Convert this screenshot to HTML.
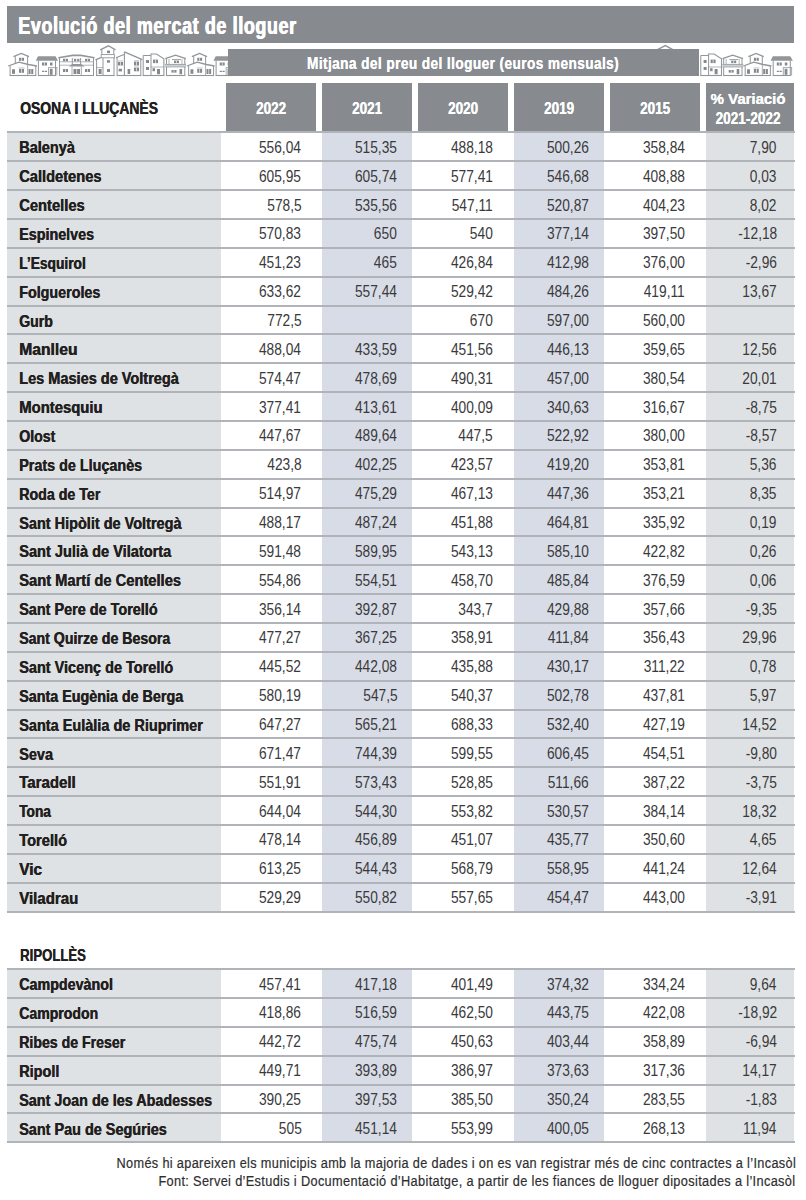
<!DOCTYPE html>
<html><head><meta charset="utf-8"><title>Evolució del mercat de lloguer</title>
<style>
html,body{margin:0;padding:0;background:#fff;}
body{width:806px;height:1200px;overflow:hidden;position:relative;font-family:"Liberation Sans",sans-serif;}
.a{position:absolute;}
.t{position:absolute;white-space:nowrap;}
.b{font-weight:bold;text-shadow:0.45px 0 0 currentColor;}
.w{text-shadow:0.2px 0 0 #fff;}
.tt{text-shadow:0.5px 0 0 #fff,1px 0 0 #fff;}
.w{color:#fff;}
.k{color:#231f20;}
.n{color:#3a3a3c;}
.f{color:#2e2e30;-webkit-text-stroke:0.2px currentColor;}
svg{position:absolute;left:0;top:0;}
</style></head><body>
<div class="a" style="left:7.00px;top:6.00px;width:787.00px;height:37.00px;background:#878b8f;"></div>
<div class="t b w tt" style="left:17.60px;top:14.20px;font-size:24.1px;line-height:24.1px;letter-spacing:0.89px;transform:scaleX(0.74);transform-origin:0 0">Evolució del mercat de lloguer</div>
<svg width="806" height="90" viewBox="0 0 806 90" style="position:absolute;left:0;top:0"><polyline points="8.20,66.00 19.00,62.20 28.30,64.50 36.90,66.00" fill="none" stroke="#929699" stroke-width="1.3" stroke-linejoin="miter"/><polyline points="13.40,56.60 21.30,53.50 29.10,56.60" fill="none" stroke="#929699" stroke-width="1.3" stroke-linejoin="miter"/><line x1="15.30" y1="56.30" x2="15.30" y2="63.60" stroke="#929699" stroke-width="1.0"/><line x1="27.60" y1="56.30" x2="27.60" y2="64.20" stroke="#929699" stroke-width="1.0"/><line x1="10.10" y1="66.00" x2="10.10" y2="75.50" stroke="#929699" stroke-width="1.0"/><line x1="35.80" y1="66.00" x2="35.80" y2="75.50" stroke="#929699" stroke-width="1.0"/><line x1="27.60" y1="64.50" x2="27.60" y2="75.50" stroke="#929699" stroke-width="0.8"/><line x1="9.60" y1="75.50" x2="36.30" y2="75.50" stroke="#929699" stroke-width="1.1"/><rect x="19.00" y="57.80" width="5.00" height="3.00" fill="#85898d"/><rect x="21.15" y="57.80" width="0.7" height="3.00" fill="#f4f4f4"/><rect x="12.00" y="69.30" width="3.00" height="4.50" fill="#85898d"/><rect x="19.00" y="69.00" width="5.00" height="3.80" fill="#85898d"/><rect x="21.15" y="69.00" width="0.7" height="3.80" fill="#f4f4f4"/><rect x="28.50" y="69.00" width="4.80" height="5.00" fill="#85898d"/><rect x="30.55" y="69.00" width="0.7" height="5.00" fill="#f4f4f4"/><line x1="18.50" y1="68.00" x2="24.50" y2="68.00" stroke="#929699" stroke-width="0.6"/><polygon points="38.00,56.30 55.50,56.30 58.10,60.80 35.80,60.80" fill="#929699"/><line x1="38.40" y1="60.80" x2="38.40" y2="75.50" stroke="#929699" stroke-width="1.0"/><line x1="55.50" y1="60.80" x2="55.50" y2="75.50" stroke="#929699" stroke-width="1.0"/><line x1="37.90" y1="75.50" x2="56.00" y2="75.50" stroke="#929699" stroke-width="1.1"/><rect x="42.00" y="62.50" width="5.00" height="3.00" fill="#85898d"/><rect x="44.15" y="62.50" width="0.7" height="3.00" fill="#f4f4f4"/><rect x="50.00" y="62.50" width="2.50" height="3.00" fill="#85898d"/><rect x="42.00" y="70.80" width="5.00" height="1.20" fill="#85898d"/><rect x="44.15" y="70.80" width="0.7" height="1.20" fill="#f4f4f4"/><rect x="49.80" y="68.80" width="2.80" height="6.00" fill="#85898d"/><line x1="48.20" y1="67.60" x2="57.40" y2="67.60" stroke="#929699" stroke-width="0.8"/><line x1="48.50" y1="67.60" x2="48.50" y2="75.50" stroke="#929699" stroke-width="0.8"/><line x1="56.80" y1="67.60" x2="56.80" y2="75.50" stroke="#929699" stroke-width="0.8"/><polygon points="58.30,58.60 72.70,56.20 80.80,56.20 94.50,58.60 94.50,57.00 80.80,54.40 72.70,54.40 58.30,57.00" fill="#929699"/><line x1="59.50" y1="58.00" x2="59.50" y2="75.50" stroke="#929699" stroke-width="1.0"/><line x1="93.50" y1="58.00" x2="93.50" y2="75.50" stroke="#929699" stroke-width="1.0"/><line x1="59.50" y1="61.80" x2="93.50" y2="61.80" stroke="#929699" stroke-width="0.7"/><line x1="59.50" y1="65.20" x2="93.50" y2="65.20" stroke="#929699" stroke-width="0.7"/><line x1="72.30" y1="58.00" x2="72.30" y2="65.00" stroke="#929699" stroke-width="1.0"/><line x1="80.60" y1="58.00" x2="80.60" y2="65.00" stroke="#929699" stroke-width="1.0"/><rect x="63.00" y="58.80" width="5.00" height="2.50" fill="#85898d"/><rect x="65.15" y="58.80" width="0.7" height="2.50" fill="#f4f4f4"/><rect x="74.00" y="58.80" width="2.20" height="2.50" fill="#85898d"/><rect x="77.20" y="58.80" width="2.20" height="2.50" fill="#85898d"/><rect x="85.00" y="58.80" width="5.00" height="2.50" fill="#85898d"/><rect x="87.15" y="58.80" width="0.7" height="2.50" fill="#f4f4f4"/><polygon points="68.80,66.60 72.50,64.00 81.00,64.00 84.80,66.60" fill="#929699"/><line x1="72.00" y1="66.60" x2="72.00" y2="75.50" stroke="#929699" stroke-width="0.8"/><line x1="81.30" y1="66.60" x2="81.30" y2="75.50" stroke="#929699" stroke-width="0.8"/><rect x="63.00" y="69.00" width="5.00" height="3.00" fill="#85898d"/><rect x="65.15" y="69.00" width="0.7" height="3.00" fill="#f4f4f4"/><rect x="73.50" y="69.00" width="6.50" height="5.00" fill="#85898d"/><rect x="76.40" y="69.00" width="0.7" height="5.00" fill="#f4f4f4"/><rect x="85.00" y="69.00" width="5.00" height="3.00" fill="#85898d"/><rect x="87.15" y="69.00" width="0.7" height="3.00" fill="#f4f4f4"/><line x1="59.00" y1="75.50" x2="94.00" y2="75.50" stroke="#929699" stroke-width="1.1"/><polyline points="100.20,49.90 108.40,45.80 115.50,49.90" fill="none" stroke="#929699" stroke-width="1.3" stroke-linejoin="miter"/><line x1="101.80" y1="49.70" x2="101.80" y2="54.50" stroke="#929699" stroke-width="1.0"/><line x1="113.80" y1="49.70" x2="113.80" y2="54.50" stroke="#929699" stroke-width="1.0"/><rect x="107.00" y="50.60" width="3.00" height="2.50" fill="#85898d"/><rect x="101.20" y="54.6" width="13.2" height="3.2" fill="none" stroke="#929699" stroke-width="0.9"/><polyline points="95.40,59.90 100.80,57.60" fill="none" stroke="#929699" stroke-width="1.2" stroke-linejoin="miter"/><line x1="96.60" y1="59.30" x2="96.60" y2="75.50" stroke="#929699" stroke-width="1.0"/><line x1="103.00" y1="58.00" x2="103.00" y2="75.50" stroke="#929699" stroke-width="1.0"/><line x1="114.00" y1="58.00" x2="114.00" y2="75.50" stroke="#929699" stroke-width="1.0"/><rect x="107.00" y="60.20" width="3.00" height="2.50" fill="#85898d"/><rect x="107.00" y="69.00" width="3.00" height="3.00" fill="#85898d"/><rect x="98.60" y="69.00" width="3.00" height="5.00" fill="#85898d"/><line x1="96.60" y1="67.60" x2="103.00" y2="67.60" stroke="#929699" stroke-width="0.7"/><line x1="96.00" y1="75.50" x2="114.60" y2="75.50" stroke="#929699" stroke-width="1.1"/><polyline points="115.90,57.80 124.00,54.50" fill="none" stroke="#929699" stroke-width="1.2" stroke-linejoin="miter"/><line x1="124.40" y1="51.80" x2="124.40" y2="75.50" stroke="#929699" stroke-width="1.1"/><polyline points="124.40,51.90 142.30,59.60" fill="none" stroke="#929699" stroke-width="1.3" stroke-linejoin="miter"/><line x1="117.10" y1="57.20" x2="117.10" y2="75.50" stroke="#929699" stroke-width="1.0"/><line x1="140.80" y1="58.80" x2="140.80" y2="75.50" stroke="#929699" stroke-width="1.0"/><line x1="118.00" y1="61.00" x2="123.00" y2="61.00" stroke="#929699" stroke-width="0.6"/><rect x="118.00" y="62.00" width="5.00" height="3.50" fill="#85898d"/><rect x="120.15" y="62.00" width="0.7" height="3.50" fill="#f4f4f4"/><rect x="118.60" y="68.80" width="3.40" height="2.60" fill="#85898d"/><line x1="134.00" y1="60.80" x2="139.00" y2="60.80" stroke="#929699" stroke-width="0.6"/><rect x="134.00" y="61.70" width="5.00" height="3.80" fill="#85898d"/><rect x="136.15" y="61.70" width="0.7" height="3.80" fill="#f4f4f4"/><line x1="134.00" y1="67.00" x2="139.00" y2="67.00" stroke="#929699" stroke-width="0.6"/><rect x="134.00" y="67.80" width="5.00" height="3.50" fill="#85898d"/><rect x="136.15" y="67.80" width="0.7" height="3.50" fill="#f4f4f4"/><rect x="127.60" y="69.00" width="2.60" height="5.00" fill="#85898d"/><line x1="116.60" y1="75.50" x2="141.30" y2="75.50" stroke="#929699" stroke-width="1.1"/><polyline points="143.20,75.50 143.20,55.50 151.00,55.50" fill="none" stroke="#929699" stroke-width="1.0" stroke-linejoin="miter"/><line x1="151.00" y1="53.50" x2="151.00" y2="75.50" stroke="#929699" stroke-width="1.0"/><polyline points="151.00,54.00 156.50,54.00 163.90,58.90 163.90,75.50" fill="none" stroke="#929699" stroke-width="1.1" stroke-linejoin="miter"/><rect x="146.00" y="60.00" width="3.00" height="3.00" fill="#85898d"/><rect x="146.00" y="67.00" width="3.00" height="3.00" fill="#85898d"/><rect x="153.00" y="59.60" width="5.00" height="3.50" fill="#85898d"/><rect x="155.15" y="59.60" width="0.7" height="3.50" fill="#f4f4f4"/><line x1="151.00" y1="67.00" x2="163.90" y2="67.00" stroke="#929699" stroke-width="0.7"/><rect x="157.00" y="69.00" width="3.00" height="5.20" fill="#85898d"/><rect x="152.50" y="68.20" width="2.50" height="3.00" fill="#85898d"/><line x1="142.70" y1="75.50" x2="164.40" y2="75.50" stroke="#929699" stroke-width="1.1"/><polyline points="165.30,58.70 175.50,55.20 185.90,58.70" fill="none" stroke="#929699" stroke-width="1.3" stroke-linejoin="miter"/><line x1="166.50" y1="58.50" x2="166.50" y2="75.50" stroke="#929699" stroke-width="1.0"/><line x1="184.80" y1="58.50" x2="184.80" y2="75.50" stroke="#929699" stroke-width="1.0"/><line x1="172.00" y1="59.60" x2="181.00" y2="59.60" stroke="#929699" stroke-width="0.9"/><line x1="169.00" y1="59.00" x2="169.00" y2="64.00" stroke="#929699" stroke-width="0.7"/><line x1="182.00" y1="59.00" x2="182.00" y2="64.00" stroke="#929699" stroke-width="0.7"/><rect x="174.00" y="60.60" width="5.00" height="2.50" fill="#85898d"/><rect x="176.15" y="60.60" width="0.7" height="2.50" fill="#f4f4f4"/><rect x="165.20" y="64.2" width="20.8" height="2.9" fill="#cdd0d2"/><line x1="165.20" y1="64.40" x2="186.00" y2="64.40" stroke="#929699" stroke-width="0.8"/><line x1="165.20" y1="67.00" x2="186.00" y2="67.00" stroke="#929699" stroke-width="0.6"/><rect x="171.50" y="70.00" width="5.00" height="2.60" fill="#85898d"/><rect x="173.65" y="70.00" width="0.7" height="2.60" fill="#f4f4f4"/><rect x="179.50" y="69.00" width="2.60" height="5.20" fill="#85898d"/><line x1="166.00" y1="75.50" x2="185.30" y2="75.50" stroke="#929699" stroke-width="1.1"/><polyline points="186.80,66.00 197.28,62.20 206.30,64.50 214.64,66.00" fill="none" stroke="#929699" stroke-width="1.3" stroke-linejoin="miter"/><polyline points="191.84,56.60 199.51,53.50 207.07,56.60" fill="none" stroke="#929699" stroke-width="1.3" stroke-linejoin="miter"/><line x1="193.69" y1="56.30" x2="193.69" y2="63.60" stroke="#929699" stroke-width="1.0"/><line x1="205.62" y1="56.30" x2="205.62" y2="64.20" stroke="#929699" stroke-width="1.0"/><line x1="188.64" y1="66.00" x2="188.64" y2="75.50" stroke="#929699" stroke-width="1.0"/><line x1="213.57" y1="66.00" x2="213.57" y2="75.50" stroke="#929699" stroke-width="1.0"/><line x1="205.62" y1="64.50" x2="205.62" y2="75.50" stroke="#929699" stroke-width="0.8"/><line x1="188.16" y1="75.50" x2="214.06" y2="75.50" stroke="#929699" stroke-width="1.1"/><rect x="197.28" y="57.80" width="4.85" height="3.00" fill="#85898d"/><rect x="199.35" y="57.80" width="0.7" height="3.00" fill="#f4f4f4"/><rect x="190.49" y="69.30" width="2.91" height="4.50" fill="#85898d"/><rect x="197.28" y="69.00" width="4.85" height="3.80" fill="#85898d"/><rect x="199.35" y="69.00" width="0.7" height="3.80" fill="#f4f4f4"/><rect x="206.49" y="69.00" width="4.66" height="5.00" fill="#85898d"/><rect x="208.47" y="69.00" width="0.7" height="5.00" fill="#f4f4f4"/><line x1="196.79" y1="68.00" x2="202.61" y2="68.00" stroke="#929699" stroke-width="0.6"/><polygon points="215.70,56.30 233.20,56.30 235.80,60.80 213.50,60.80" fill="#929699"/><line x1="216.10" y1="60.80" x2="216.10" y2="75.50" stroke="#929699" stroke-width="1.0"/><line x1="233.20" y1="60.80" x2="233.20" y2="75.50" stroke="#929699" stroke-width="1.0"/><line x1="215.60" y1="75.50" x2="233.70" y2="75.50" stroke="#929699" stroke-width="1.1"/><rect x="219.70" y="62.50" width="5.00" height="3.00" fill="#85898d"/><rect x="221.85" y="62.50" width="0.7" height="3.00" fill="#f4f4f4"/><rect x="227.70" y="62.50" width="2.50" height="3.00" fill="#85898d"/><rect x="219.70" y="70.80" width="5.00" height="1.20" fill="#85898d"/><rect x="221.85" y="70.80" width="0.7" height="1.20" fill="#f4f4f4"/><rect x="227.50" y="68.80" width="2.80" height="6.00" fill="#85898d"/><line x1="225.90" y1="67.60" x2="235.10" y2="67.60" stroke="#929699" stroke-width="0.8"/><line x1="226.20" y1="67.60" x2="226.20" y2="75.50" stroke="#929699" stroke-width="0.8"/><line x1="234.50" y1="67.60" x2="234.50" y2="75.50" stroke="#929699" stroke-width="0.8"/><polyline points="700.80,75.50 700.80,55.50 708.60,55.50" fill="none" stroke="#929699" stroke-width="1.0" stroke-linejoin="miter"/><line x1="708.60" y1="53.50" x2="708.60" y2="75.50" stroke="#929699" stroke-width="1.0"/><polyline points="708.60,54.00 714.10,54.00 721.50,58.90 721.50,75.50" fill="none" stroke="#929699" stroke-width="1.1" stroke-linejoin="miter"/><rect x="703.60" y="60.00" width="3.00" height="3.00" fill="#85898d"/><rect x="703.60" y="67.00" width="3.00" height="3.00" fill="#85898d"/><rect x="710.60" y="59.60" width="5.00" height="3.50" fill="#85898d"/><rect x="712.75" y="59.60" width="0.7" height="3.50" fill="#f4f4f4"/><line x1="708.60" y1="67.00" x2="721.50" y2="67.00" stroke="#929699" stroke-width="0.7"/><rect x="714.60" y="69.00" width="3.00" height="5.20" fill="#85898d"/><rect x="710.10" y="68.20" width="2.50" height="3.00" fill="#85898d"/><line x1="700.30" y1="75.50" x2="722.00" y2="75.50" stroke="#929699" stroke-width="1.1"/><polyline points="722.50,58.70 732.70,55.20 743.10,58.70" fill="none" stroke="#929699" stroke-width="1.3" stroke-linejoin="miter"/><line x1="723.70" y1="58.50" x2="723.70" y2="75.50" stroke="#929699" stroke-width="1.0"/><line x1="742.00" y1="58.50" x2="742.00" y2="75.50" stroke="#929699" stroke-width="1.0"/><line x1="729.20" y1="59.60" x2="738.20" y2="59.60" stroke="#929699" stroke-width="0.9"/><line x1="726.20" y1="59.00" x2="726.20" y2="64.00" stroke="#929699" stroke-width="0.7"/><line x1="739.20" y1="59.00" x2="739.20" y2="64.00" stroke="#929699" stroke-width="0.7"/><rect x="731.20" y="60.60" width="5.00" height="2.50" fill="#85898d"/><rect x="733.35" y="60.60" width="0.7" height="2.50" fill="#f4f4f4"/><rect x="722.40" y="64.2" width="20.8" height="2.9" fill="#cdd0d2"/><line x1="722.40" y1="64.40" x2="743.20" y2="64.40" stroke="#929699" stroke-width="0.8"/><line x1="722.40" y1="67.00" x2="743.20" y2="67.00" stroke="#929699" stroke-width="0.6"/><rect x="728.70" y="70.00" width="5.00" height="2.60" fill="#85898d"/><rect x="730.85" y="70.00" width="0.7" height="2.60" fill="#f4f4f4"/><rect x="736.70" y="69.00" width="2.60" height="5.20" fill="#85898d"/><line x1="723.20" y1="75.50" x2="742.50" y2="75.50" stroke="#929699" stroke-width="1.1"/><polyline points="743.30,66.00 753.88,62.20 763.00,64.50 771.43,66.00" fill="none" stroke="#929699" stroke-width="1.3" stroke-linejoin="miter"/><polyline points="748.40,56.60 756.14,53.50 763.78,56.60" fill="none" stroke="#929699" stroke-width="1.3" stroke-linejoin="miter"/><line x1="750.26" y1="56.30" x2="750.26" y2="63.60" stroke="#929699" stroke-width="1.0"/><line x1="762.31" y1="56.30" x2="762.31" y2="64.20" stroke="#929699" stroke-width="1.0"/><line x1="745.16" y1="66.00" x2="745.16" y2="75.50" stroke="#929699" stroke-width="1.0"/><line x1="770.35" y1="66.00" x2="770.35" y2="75.50" stroke="#929699" stroke-width="1.0"/><line x1="762.31" y1="64.50" x2="762.31" y2="75.50" stroke="#929699" stroke-width="0.8"/><line x1="744.67" y1="75.50" x2="770.84" y2="75.50" stroke="#929699" stroke-width="1.1"/><rect x="753.88" y="57.80" width="4.90" height="3.00" fill="#85898d"/><rect x="755.98" y="57.80" width="0.7" height="3.00" fill="#f4f4f4"/><rect x="747.02" y="69.30" width="2.94" height="4.50" fill="#85898d"/><rect x="753.88" y="69.00" width="4.90" height="3.80" fill="#85898d"/><rect x="755.98" y="69.00" width="0.7" height="3.80" fill="#f4f4f4"/><rect x="763.19" y="69.00" width="4.70" height="5.00" fill="#85898d"/><rect x="765.20" y="69.00" width="0.7" height="5.00" fill="#f4f4f4"/><line x1="753.39" y1="68.00" x2="759.27" y2="68.00" stroke="#929699" stroke-width="0.6"/><polygon points="772.80,56.30 790.30,56.30 792.90,60.80 770.60,60.80" fill="#929699"/><line x1="773.20" y1="60.80" x2="773.20" y2="75.50" stroke="#929699" stroke-width="1.0"/><line x1="790.30" y1="60.80" x2="790.30" y2="75.50" stroke="#929699" stroke-width="1.0"/><line x1="772.70" y1="75.50" x2="790.80" y2="75.50" stroke="#929699" stroke-width="1.1"/><rect x="776.80" y="62.50" width="5.00" height="3.00" fill="#85898d"/><rect x="778.95" y="62.50" width="0.7" height="3.00" fill="#f4f4f4"/><rect x="784.80" y="62.50" width="2.50" height="3.00" fill="#85898d"/><rect x="776.80" y="70.80" width="5.00" height="1.20" fill="#85898d"/><rect x="778.95" y="70.80" width="0.7" height="1.20" fill="#f4f4f4"/><rect x="784.60" y="68.80" width="2.80" height="6.00" fill="#85898d"/><line x1="783.00" y1="67.60" x2="792.20" y2="67.60" stroke="#929699" stroke-width="0.8"/><line x1="783.30" y1="67.60" x2="783.30" y2="75.50" stroke="#929699" stroke-width="0.8"/><line x1="791.60" y1="67.60" x2="791.60" y2="75.50" stroke="#929699" stroke-width="0.8"/><polyline points="657.40,49.60 665.40,45.60 672.80,49.60" fill="none" stroke="#929699" stroke-width="1.3" stroke-linejoin="miter"/></svg>
<div class="a" style="left:227.50px;top:49.20px;width:471.30px;height:26.60px;background:#878b8f;"></div>
<div class="t b w" style="left:-37.40px;width:1000px;text-align:center;top:55.74px;font-size:15.9px;line-height:15.9px;letter-spacing:0.5px;transform:scaleX(0.857);transform-origin:50% 0">Mitjana del preu del lloguer (euros mensuals)</div>
<div class="a" style="left:226.00px;top:83.20px;width:90.40px;height:48.80px;background:#878b8f;"></div>
<div class="a" style="left:322.00px;top:83.20px;width:90.00px;height:48.80px;background:#878b8f;"></div>
<div class="a" style="left:418.00px;top:83.20px;width:90.00px;height:48.80px;background:#878b8f;"></div>
<div class="a" style="left:514.00px;top:83.20px;width:90.00px;height:48.80px;background:#878b8f;"></div>
<div class="a" style="left:610.00px;top:83.20px;width:90.00px;height:48.80px;background:#878b8f;"></div>
<div class="a" style="left:706.00px;top:83.20px;width:88.40px;height:48.80px;background:#878b8f;"></div>
<div class="t b w" style="left:-228.60px;width:1000px;text-align:center;top:100.43px;font-size:16.5px;line-height:16.5px;transform:scaleX(0.817);transform-origin:50% 0">2022</div>
<div class="t b w" style="left:-132.80px;width:1000px;text-align:center;top:100.43px;font-size:16.5px;line-height:16.5px;transform:scaleX(0.817);transform-origin:50% 0">2021</div>
<div class="t b w" style="left:-36.80px;width:1000px;text-align:center;top:100.43px;font-size:16.5px;line-height:16.5px;transform:scaleX(0.817);transform-origin:50% 0">2020</div>
<div class="t b w" style="left:59.20px;width:1000px;text-align:center;top:100.43px;font-size:16.5px;line-height:16.5px;transform:scaleX(0.817);transform-origin:50% 0">2019</div>
<div class="t b w" style="left:155.20px;width:1000px;text-align:center;top:100.43px;font-size:16.5px;line-height:16.5px;transform:scaleX(0.817);transform-origin:50% 0">2015</div>
<div class="t b w" style="left:248.20px;width:1000px;text-align:center;top:92.04px;font-size:14.84px;line-height:14.84px;transform:scaleX(1.008);transform-origin:50% 0">% Variació</div>
<div class="t b w" style="left:248.10px;width:1000px;text-align:center;top:111.19px;font-size:15.6px;line-height:15.6px;transform:scaleX(0.87);transform-origin:50% 0">2021-2022</div>
<div class="t b k" style="left:19.80px;top:101.04px;font-size:15.9px;line-height:15.9px;transform:scaleX(0.875);transform-origin:0 0">OSONA I LLUÇANÈS</div>
<div class="a" style="left:7.00px;top:132.40px;width:213.80px;height:779.22px;background:#dfe2e4;"></div>
<div class="a" style="left:322.00px;top:132.40px;width:90.00px;height:779.22px;background:#d8dce6;"></div>
<div class="a" style="left:514.00px;top:132.40px;width:90.00px;height:779.22px;background:#d8dce6;"></div>
<div class="a" style="left:706.00px;top:132.40px;width:88.40px;height:779.22px;background:#dfe2e4;"></div>
<div class="a" style="left:7.00px;top:131.00px;width:787.60px;height:2.00px;background:#b0b3b7;"></div>
<div class="a" style="left:7.00px;top:160.00px;width:787.60px;height:2.00px;background:#b0b3b7;"></div>
<div class="a" style="left:7.00px;top:189.00px;width:787.60px;height:2.00px;background:#b0b3b7;"></div>
<div class="a" style="left:7.00px;top:218.00px;width:787.60px;height:2.00px;background:#b0b3b7;"></div>
<div class="a" style="left:7.00px;top:247.00px;width:787.60px;height:2.00px;background:#b0b3b7;"></div>
<div class="a" style="left:7.00px;top:276.00px;width:787.60px;height:2.00px;background:#b0b3b7;"></div>
<div class="a" style="left:7.00px;top:305.00px;width:787.60px;height:2.00px;background:#b0b3b7;"></div>
<div class="a" style="left:7.00px;top:333.00px;width:787.60px;height:2.00px;background:#b0b3b7;"></div>
<div class="a" style="left:7.00px;top:362.00px;width:787.60px;height:2.00px;background:#b0b3b7;"></div>
<div class="a" style="left:7.00px;top:391.00px;width:787.60px;height:2.00px;background:#b0b3b7;"></div>
<div class="a" style="left:7.00px;top:420.00px;width:787.60px;height:2.00px;background:#b0b3b7;"></div>
<div class="a" style="left:7.00px;top:449.00px;width:787.60px;height:2.00px;background:#b0b3b7;"></div>
<div class="a" style="left:7.00px;top:478.00px;width:787.60px;height:2.00px;background:#b0b3b7;"></div>
<div class="a" style="left:7.00px;top:507.00px;width:787.60px;height:2.00px;background:#b0b3b7;"></div>
<div class="a" style="left:7.00px;top:535.00px;width:787.60px;height:2.00px;background:#b0b3b7;"></div>
<div class="a" style="left:7.00px;top:564.00px;width:787.60px;height:2.00px;background:#b0b3b7;"></div>
<div class="a" style="left:7.00px;top:593.00px;width:787.60px;height:2.00px;background:#b0b3b7;"></div>
<div class="a" style="left:7.00px;top:622.00px;width:787.60px;height:2.00px;background:#b0b3b7;"></div>
<div class="a" style="left:7.00px;top:651.00px;width:787.60px;height:2.00px;background:#b0b3b7;"></div>
<div class="a" style="left:7.00px;top:680.00px;width:787.60px;height:2.00px;background:#b0b3b7;"></div>
<div class="a" style="left:7.00px;top:709.00px;width:787.60px;height:2.00px;background:#b0b3b7;"></div>
<div class="a" style="left:7.00px;top:737.00px;width:787.60px;height:2.00px;background:#b0b3b7;"></div>
<div class="a" style="left:7.00px;top:766.00px;width:787.60px;height:2.00px;background:#b0b3b7;"></div>
<div class="a" style="left:7.00px;top:795.00px;width:787.60px;height:2.00px;background:#b0b3b7;"></div>
<div class="a" style="left:7.00px;top:824.00px;width:787.60px;height:2.00px;background:#b0b3b7;"></div>
<div class="a" style="left:7.00px;top:853.00px;width:787.60px;height:2.00px;background:#b0b3b7;"></div>
<div class="a" style="left:7.00px;top:882.00px;width:787.60px;height:2.00px;background:#b0b3b7;"></div>
<div class="a" style="left:7.00px;top:911.00px;width:787.60px;height:2.00px;background:#b0b3b7;"></div>
<div class="t b k" style="left:19.00px;top:140.44px;font-size:15.9px;line-height:15.9px;transform:scaleX(0.9149);transform-origin:0 0">Balenyà</div>
<div class="t n" style="right:504.70px;top:139.80px;font-size:16.66px;line-height:16.66px;transform:scaleX(0.825);transform-origin:100% 0">556,04</div>
<div class="t n" style="right:408.80px;top:139.80px;font-size:16.66px;line-height:16.66px;transform:scaleX(0.825);transform-origin:100% 0">515,35</div>
<div class="t n" style="right:312.90px;top:139.80px;font-size:16.66px;line-height:16.66px;transform:scaleX(0.825);transform-origin:100% 0">488,18</div>
<div class="t n" style="right:217.00px;top:139.80px;font-size:16.66px;line-height:16.66px;transform:scaleX(0.825);transform-origin:100% 0">500,26</div>
<div class="t n" style="right:121.10px;top:139.80px;font-size:16.66px;line-height:16.66px;transform:scaleX(0.825);transform-origin:100% 0">358,84</div>
<div class="t n" style="right:29.20px;top:139.80px;font-size:16.66px;line-height:16.66px;transform:scaleX(0.825);transform-origin:100% 0">7,90</div>
<div class="t b k" style="left:19.00px;top:169.30px;font-size:15.9px;line-height:15.9px;transform:scaleX(0.9225);transform-origin:0 0">Calldetenes</div>
<div class="t n" style="right:504.70px;top:168.66px;font-size:16.66px;line-height:16.66px;transform:scaleX(0.825);transform-origin:100% 0">605,95</div>
<div class="t n" style="right:408.80px;top:168.66px;font-size:16.66px;line-height:16.66px;transform:scaleX(0.825);transform-origin:100% 0">605,74</div>
<div class="t n" style="right:312.90px;top:168.66px;font-size:16.66px;line-height:16.66px;transform:scaleX(0.825);transform-origin:100% 0">577,41</div>
<div class="t n" style="right:217.00px;top:168.66px;font-size:16.66px;line-height:16.66px;transform:scaleX(0.825);transform-origin:100% 0">546,68</div>
<div class="t n" style="right:121.10px;top:168.66px;font-size:16.66px;line-height:16.66px;transform:scaleX(0.825);transform-origin:100% 0">408,88</div>
<div class="t n" style="right:29.20px;top:168.66px;font-size:16.66px;line-height:16.66px;transform:scaleX(0.825);transform-origin:100% 0">0,03</div>
<div class="t b k" style="left:19.00px;top:198.16px;font-size:15.9px;line-height:15.9px;transform:scaleX(0.9273);transform-origin:0 0">Centelles</div>
<div class="t n" style="right:504.70px;top:197.52px;font-size:16.66px;line-height:16.66px;transform:scaleX(0.825);transform-origin:100% 0">578,5</div>
<div class="t n" style="right:408.80px;top:197.52px;font-size:16.66px;line-height:16.66px;transform:scaleX(0.825);transform-origin:100% 0">535,56</div>
<div class="t n" style="right:312.90px;top:197.52px;font-size:16.66px;line-height:16.66px;transform:scaleX(0.825);transform-origin:100% 0">547,11</div>
<div class="t n" style="right:217.00px;top:197.52px;font-size:16.66px;line-height:16.66px;transform:scaleX(0.825);transform-origin:100% 0">520,87</div>
<div class="t n" style="right:121.10px;top:197.52px;font-size:16.66px;line-height:16.66px;transform:scaleX(0.825);transform-origin:100% 0">404,23</div>
<div class="t n" style="right:29.20px;top:197.52px;font-size:16.66px;line-height:16.66px;transform:scaleX(0.825);transform-origin:100% 0">8,02</div>
<div class="t b k" style="left:19.00px;top:227.02px;font-size:15.9px;line-height:15.9px;transform:scaleX(0.9014);transform-origin:0 0">Espinelves</div>
<div class="t n" style="right:504.70px;top:226.38px;font-size:16.66px;line-height:16.66px;transform:scaleX(0.825);transform-origin:100% 0">570,83</div>
<div class="t n" style="right:408.80px;top:226.38px;font-size:16.66px;line-height:16.66px;transform:scaleX(0.825);transform-origin:100% 0">650</div>
<div class="t n" style="right:312.90px;top:226.38px;font-size:16.66px;line-height:16.66px;transform:scaleX(0.825);transform-origin:100% 0">540</div>
<div class="t n" style="right:217.00px;top:226.38px;font-size:16.66px;line-height:16.66px;transform:scaleX(0.825);transform-origin:100% 0">377,14</div>
<div class="t n" style="right:121.10px;top:226.38px;font-size:16.66px;line-height:16.66px;transform:scaleX(0.825);transform-origin:100% 0">397,50</div>
<div class="t n" style="right:29.20px;top:226.38px;font-size:16.66px;line-height:16.66px;transform:scaleX(0.825);transform-origin:100% 0">-12,18</div>
<div class="t b k" style="left:19.00px;top:255.88px;font-size:15.9px;line-height:15.9px;transform:scaleX(0.8673);transform-origin:0 0">L’Esquirol</div>
<div class="t n" style="right:504.70px;top:255.24px;font-size:16.66px;line-height:16.66px;transform:scaleX(0.825);transform-origin:100% 0">451,23</div>
<div class="t n" style="right:408.80px;top:255.24px;font-size:16.66px;line-height:16.66px;transform:scaleX(0.825);transform-origin:100% 0">465</div>
<div class="t n" style="right:312.90px;top:255.24px;font-size:16.66px;line-height:16.66px;transform:scaleX(0.825);transform-origin:100% 0">426,84</div>
<div class="t n" style="right:217.00px;top:255.24px;font-size:16.66px;line-height:16.66px;transform:scaleX(0.825);transform-origin:100% 0">412,98</div>
<div class="t n" style="right:121.10px;top:255.24px;font-size:16.66px;line-height:16.66px;transform:scaleX(0.825);transform-origin:100% 0">376,00</div>
<div class="t n" style="right:29.20px;top:255.24px;font-size:16.66px;line-height:16.66px;transform:scaleX(0.825);transform-origin:100% 0">-2,96</div>
<div class="t b k" style="left:19.00px;top:284.74px;font-size:15.9px;line-height:15.9px;transform:scaleX(0.901);transform-origin:0 0">Folgueroles</div>
<div class="t n" style="right:504.70px;top:284.10px;font-size:16.66px;line-height:16.66px;transform:scaleX(0.825);transform-origin:100% 0">633,62</div>
<div class="t n" style="right:408.80px;top:284.10px;font-size:16.66px;line-height:16.66px;transform:scaleX(0.825);transform-origin:100% 0">557,44</div>
<div class="t n" style="right:312.90px;top:284.10px;font-size:16.66px;line-height:16.66px;transform:scaleX(0.825);transform-origin:100% 0">529,42</div>
<div class="t n" style="right:217.00px;top:284.10px;font-size:16.66px;line-height:16.66px;transform:scaleX(0.825);transform-origin:100% 0">484,26</div>
<div class="t n" style="right:121.10px;top:284.10px;font-size:16.66px;line-height:16.66px;transform:scaleX(0.825);transform-origin:100% 0">419,11</div>
<div class="t n" style="right:29.20px;top:284.10px;font-size:16.66px;line-height:16.66px;transform:scaleX(0.825);transform-origin:100% 0">13,67</div>
<div class="t b k" style="left:19.00px;top:313.60px;font-size:15.9px;line-height:15.9px;transform:scaleX(0.8853);transform-origin:0 0">Gurb</div>
<div class="t n" style="right:504.70px;top:312.96px;font-size:16.66px;line-height:16.66px;transform:scaleX(0.825);transform-origin:100% 0">772,5</div>
<div class="t n" style="right:312.90px;top:312.96px;font-size:16.66px;line-height:16.66px;transform:scaleX(0.825);transform-origin:100% 0">670</div>
<div class="t n" style="right:217.00px;top:312.96px;font-size:16.66px;line-height:16.66px;transform:scaleX(0.825);transform-origin:100% 0">597,00</div>
<div class="t n" style="right:121.10px;top:312.96px;font-size:16.66px;line-height:16.66px;transform:scaleX(0.825);transform-origin:100% 0">560,00</div>
<div class="t b k" style="left:19.00px;top:342.46px;font-size:15.9px;line-height:15.9px;transform:scaleX(0.985);transform-origin:0 0">Manlleu</div>
<div class="t n" style="right:504.70px;top:341.82px;font-size:16.66px;line-height:16.66px;transform:scaleX(0.825);transform-origin:100% 0">488,04</div>
<div class="t n" style="right:408.80px;top:341.82px;font-size:16.66px;line-height:16.66px;transform:scaleX(0.825);transform-origin:100% 0">433,59</div>
<div class="t n" style="right:312.90px;top:341.82px;font-size:16.66px;line-height:16.66px;transform:scaleX(0.825);transform-origin:100% 0">451,56</div>
<div class="t n" style="right:217.00px;top:341.82px;font-size:16.66px;line-height:16.66px;transform:scaleX(0.825);transform-origin:100% 0">446,13</div>
<div class="t n" style="right:121.10px;top:341.82px;font-size:16.66px;line-height:16.66px;transform:scaleX(0.825);transform-origin:100% 0">359,65</div>
<div class="t n" style="right:29.20px;top:341.82px;font-size:16.66px;line-height:16.66px;transform:scaleX(0.825);transform-origin:100% 0">12,56</div>
<div class="t b k" style="left:19.00px;top:371.32px;font-size:15.9px;line-height:15.9px;transform:scaleX(0.9146);transform-origin:0 0">Les Masies de Voltregà</div>
<div class="t n" style="right:504.70px;top:370.68px;font-size:16.66px;line-height:16.66px;transform:scaleX(0.825);transform-origin:100% 0">574,47</div>
<div class="t n" style="right:408.80px;top:370.68px;font-size:16.66px;line-height:16.66px;transform:scaleX(0.825);transform-origin:100% 0">478,69</div>
<div class="t n" style="right:312.90px;top:370.68px;font-size:16.66px;line-height:16.66px;transform:scaleX(0.825);transform-origin:100% 0">490,31</div>
<div class="t n" style="right:217.00px;top:370.68px;font-size:16.66px;line-height:16.66px;transform:scaleX(0.825);transform-origin:100% 0">457,00</div>
<div class="t n" style="right:121.10px;top:370.68px;font-size:16.66px;line-height:16.66px;transform:scaleX(0.825);transform-origin:100% 0">380,54</div>
<div class="t n" style="right:29.20px;top:370.68px;font-size:16.66px;line-height:16.66px;transform:scaleX(0.825);transform-origin:100% 0">20,01</div>
<div class="t b k" style="left:19.00px;top:400.18px;font-size:15.9px;line-height:15.9px;transform:scaleX(0.9353);transform-origin:0 0">Montesquiu</div>
<div class="t n" style="right:504.70px;top:399.54px;font-size:16.66px;line-height:16.66px;transform:scaleX(0.825);transform-origin:100% 0">377,41</div>
<div class="t n" style="right:408.80px;top:399.54px;font-size:16.66px;line-height:16.66px;transform:scaleX(0.825);transform-origin:100% 0">413,61</div>
<div class="t n" style="right:312.90px;top:399.54px;font-size:16.66px;line-height:16.66px;transform:scaleX(0.825);transform-origin:100% 0">400,09</div>
<div class="t n" style="right:217.00px;top:399.54px;font-size:16.66px;line-height:16.66px;transform:scaleX(0.825);transform-origin:100% 0">340,63</div>
<div class="t n" style="right:121.10px;top:399.54px;font-size:16.66px;line-height:16.66px;transform:scaleX(0.825);transform-origin:100% 0">316,67</div>
<div class="t n" style="right:29.20px;top:399.54px;font-size:16.66px;line-height:16.66px;transform:scaleX(0.825);transform-origin:100% 0">-8,75</div>
<div class="t b k" style="left:19.00px;top:429.04px;font-size:15.9px;line-height:15.9px;transform:scaleX(0.8899);transform-origin:0 0">Olost</div>
<div class="t n" style="right:504.70px;top:428.40px;font-size:16.66px;line-height:16.66px;transform:scaleX(0.825);transform-origin:100% 0">447,67</div>
<div class="t n" style="right:408.80px;top:428.40px;font-size:16.66px;line-height:16.66px;transform:scaleX(0.825);transform-origin:100% 0">489,64</div>
<div class="t n" style="right:312.90px;top:428.40px;font-size:16.66px;line-height:16.66px;transform:scaleX(0.825);transform-origin:100% 0">447,5</div>
<div class="t n" style="right:217.00px;top:428.40px;font-size:16.66px;line-height:16.66px;transform:scaleX(0.825);transform-origin:100% 0">522,92</div>
<div class="t n" style="right:121.10px;top:428.40px;font-size:16.66px;line-height:16.66px;transform:scaleX(0.825);transform-origin:100% 0">380,00</div>
<div class="t n" style="right:29.20px;top:428.40px;font-size:16.66px;line-height:16.66px;transform:scaleX(0.825);transform-origin:100% 0">-8,57</div>
<div class="t b k" style="left:19.00px;top:457.90px;font-size:15.9px;line-height:15.9px;transform:scaleX(0.904);transform-origin:0 0">Prats de Lluçanès</div>
<div class="t n" style="right:504.70px;top:457.26px;font-size:16.66px;line-height:16.66px;transform:scaleX(0.825);transform-origin:100% 0">423,8</div>
<div class="t n" style="right:408.80px;top:457.26px;font-size:16.66px;line-height:16.66px;transform:scaleX(0.825);transform-origin:100% 0">402,25</div>
<div class="t n" style="right:312.90px;top:457.26px;font-size:16.66px;line-height:16.66px;transform:scaleX(0.825);transform-origin:100% 0">423,57</div>
<div class="t n" style="right:217.00px;top:457.26px;font-size:16.66px;line-height:16.66px;transform:scaleX(0.825);transform-origin:100% 0">419,20</div>
<div class="t n" style="right:121.10px;top:457.26px;font-size:16.66px;line-height:16.66px;transform:scaleX(0.825);transform-origin:100% 0">353,81</div>
<div class="t n" style="right:29.20px;top:457.26px;font-size:16.66px;line-height:16.66px;transform:scaleX(0.825);transform-origin:100% 0">5,36</div>
<div class="t b k" style="left:19.00px;top:486.76px;font-size:15.9px;line-height:15.9px;transform:scaleX(0.8954);transform-origin:0 0">Roda de Ter</div>
<div class="t n" style="right:504.70px;top:486.12px;font-size:16.66px;line-height:16.66px;transform:scaleX(0.825);transform-origin:100% 0">514,97</div>
<div class="t n" style="right:408.80px;top:486.12px;font-size:16.66px;line-height:16.66px;transform:scaleX(0.825);transform-origin:100% 0">475,29</div>
<div class="t n" style="right:312.90px;top:486.12px;font-size:16.66px;line-height:16.66px;transform:scaleX(0.825);transform-origin:100% 0">467,13</div>
<div class="t n" style="right:217.00px;top:486.12px;font-size:16.66px;line-height:16.66px;transform:scaleX(0.825);transform-origin:100% 0">447,36</div>
<div class="t n" style="right:121.10px;top:486.12px;font-size:16.66px;line-height:16.66px;transform:scaleX(0.825);transform-origin:100% 0">353,21</div>
<div class="t n" style="right:29.20px;top:486.12px;font-size:16.66px;line-height:16.66px;transform:scaleX(0.825);transform-origin:100% 0">8,35</div>
<div class="t b k" style="left:19.00px;top:515.62px;font-size:15.9px;line-height:15.9px;transform:scaleX(0.9117);transform-origin:0 0">Sant Hipòlit de Voltregà</div>
<div class="t n" style="right:504.70px;top:514.98px;font-size:16.66px;line-height:16.66px;transform:scaleX(0.825);transform-origin:100% 0">488,17</div>
<div class="t n" style="right:408.80px;top:514.98px;font-size:16.66px;line-height:16.66px;transform:scaleX(0.825);transform-origin:100% 0">487,24</div>
<div class="t n" style="right:312.90px;top:514.98px;font-size:16.66px;line-height:16.66px;transform:scaleX(0.825);transform-origin:100% 0">451,88</div>
<div class="t n" style="right:217.00px;top:514.98px;font-size:16.66px;line-height:16.66px;transform:scaleX(0.825);transform-origin:100% 0">464,81</div>
<div class="t n" style="right:121.10px;top:514.98px;font-size:16.66px;line-height:16.66px;transform:scaleX(0.825);transform-origin:100% 0">335,92</div>
<div class="t n" style="right:29.20px;top:514.98px;font-size:16.66px;line-height:16.66px;transform:scaleX(0.825);transform-origin:100% 0">0,19</div>
<div class="t b k" style="left:19.00px;top:544.48px;font-size:15.9px;line-height:15.9px;transform:scaleX(0.9173);transform-origin:0 0">Sant Julià de Vilatorta</div>
<div class="t n" style="right:504.70px;top:543.84px;font-size:16.66px;line-height:16.66px;transform:scaleX(0.825);transform-origin:100% 0">591,48</div>
<div class="t n" style="right:408.80px;top:543.84px;font-size:16.66px;line-height:16.66px;transform:scaleX(0.825);transform-origin:100% 0">589,95</div>
<div class="t n" style="right:312.90px;top:543.84px;font-size:16.66px;line-height:16.66px;transform:scaleX(0.825);transform-origin:100% 0">543,13</div>
<div class="t n" style="right:217.00px;top:543.84px;font-size:16.66px;line-height:16.66px;transform:scaleX(0.825);transform-origin:100% 0">585,10</div>
<div class="t n" style="right:121.10px;top:543.84px;font-size:16.66px;line-height:16.66px;transform:scaleX(0.825);transform-origin:100% 0">422,82</div>
<div class="t n" style="right:29.20px;top:543.84px;font-size:16.66px;line-height:16.66px;transform:scaleX(0.825);transform-origin:100% 0">0,26</div>
<div class="t b k" style="left:19.00px;top:573.34px;font-size:15.9px;line-height:15.9px;transform:scaleX(0.9255);transform-origin:0 0">Sant Martí de Centelles</div>
<div class="t n" style="right:504.70px;top:572.70px;font-size:16.66px;line-height:16.66px;transform:scaleX(0.825);transform-origin:100% 0">554,86</div>
<div class="t n" style="right:408.80px;top:572.70px;font-size:16.66px;line-height:16.66px;transform:scaleX(0.825);transform-origin:100% 0">554,51</div>
<div class="t n" style="right:312.90px;top:572.70px;font-size:16.66px;line-height:16.66px;transform:scaleX(0.825);transform-origin:100% 0">458,70</div>
<div class="t n" style="right:217.00px;top:572.70px;font-size:16.66px;line-height:16.66px;transform:scaleX(0.825);transform-origin:100% 0">485,84</div>
<div class="t n" style="right:121.10px;top:572.70px;font-size:16.66px;line-height:16.66px;transform:scaleX(0.825);transform-origin:100% 0">376,59</div>
<div class="t n" style="right:29.20px;top:572.70px;font-size:16.66px;line-height:16.66px;transform:scaleX(0.825);transform-origin:100% 0">0,06</div>
<div class="t b k" style="left:19.00px;top:602.20px;font-size:15.9px;line-height:15.9px;transform:scaleX(0.908);transform-origin:0 0">Sant Pere de Torelló</div>
<div class="t n" style="right:504.70px;top:601.56px;font-size:16.66px;line-height:16.66px;transform:scaleX(0.825);transform-origin:100% 0">356,14</div>
<div class="t n" style="right:408.80px;top:601.56px;font-size:16.66px;line-height:16.66px;transform:scaleX(0.825);transform-origin:100% 0">392,87</div>
<div class="t n" style="right:312.90px;top:601.56px;font-size:16.66px;line-height:16.66px;transform:scaleX(0.825);transform-origin:100% 0">343,7</div>
<div class="t n" style="right:217.00px;top:601.56px;font-size:16.66px;line-height:16.66px;transform:scaleX(0.825);transform-origin:100% 0">429,88</div>
<div class="t n" style="right:121.10px;top:601.56px;font-size:16.66px;line-height:16.66px;transform:scaleX(0.825);transform-origin:100% 0">357,66</div>
<div class="t n" style="right:29.20px;top:601.56px;font-size:16.66px;line-height:16.66px;transform:scaleX(0.825);transform-origin:100% 0">-9,35</div>
<div class="t b k" style="left:19.00px;top:631.06px;font-size:15.9px;line-height:15.9px;transform:scaleX(0.8911);transform-origin:0 0">Sant Quirze de Besora</div>
<div class="t n" style="right:504.70px;top:630.42px;font-size:16.66px;line-height:16.66px;transform:scaleX(0.825);transform-origin:100% 0">477,27</div>
<div class="t n" style="right:408.80px;top:630.42px;font-size:16.66px;line-height:16.66px;transform:scaleX(0.825);transform-origin:100% 0">367,25</div>
<div class="t n" style="right:312.90px;top:630.42px;font-size:16.66px;line-height:16.66px;transform:scaleX(0.825);transform-origin:100% 0">358,91</div>
<div class="t n" style="right:217.00px;top:630.42px;font-size:16.66px;line-height:16.66px;transform:scaleX(0.825);transform-origin:100% 0">411,84</div>
<div class="t n" style="right:121.10px;top:630.42px;font-size:16.66px;line-height:16.66px;transform:scaleX(0.825);transform-origin:100% 0">356,43</div>
<div class="t n" style="right:29.20px;top:630.42px;font-size:16.66px;line-height:16.66px;transform:scaleX(0.825);transform-origin:100% 0">29,96</div>
<div class="t b k" style="left:19.00px;top:659.92px;font-size:15.9px;line-height:15.9px;transform:scaleX(0.9118);transform-origin:0 0">Sant Vicenç de Torelló</div>
<div class="t n" style="right:504.70px;top:659.28px;font-size:16.66px;line-height:16.66px;transform:scaleX(0.825);transform-origin:100% 0">445,52</div>
<div class="t n" style="right:408.80px;top:659.28px;font-size:16.66px;line-height:16.66px;transform:scaleX(0.825);transform-origin:100% 0">442,08</div>
<div class="t n" style="right:312.90px;top:659.28px;font-size:16.66px;line-height:16.66px;transform:scaleX(0.825);transform-origin:100% 0">435,88</div>
<div class="t n" style="right:217.00px;top:659.28px;font-size:16.66px;line-height:16.66px;transform:scaleX(0.825);transform-origin:100% 0">430,17</div>
<div class="t n" style="right:121.10px;top:659.28px;font-size:16.66px;line-height:16.66px;transform:scaleX(0.825);transform-origin:100% 0">311,22</div>
<div class="t n" style="right:29.20px;top:659.28px;font-size:16.66px;line-height:16.66px;transform:scaleX(0.825);transform-origin:100% 0">0,78</div>
<div class="t b k" style="left:19.00px;top:688.78px;font-size:15.9px;line-height:15.9px;transform:scaleX(0.9012);transform-origin:0 0">Santa Eugènia de Berga</div>
<div class="t n" style="right:504.70px;top:688.14px;font-size:16.66px;line-height:16.66px;transform:scaleX(0.825);transform-origin:100% 0">580,19</div>
<div class="t n" style="right:408.80px;top:688.14px;font-size:16.66px;line-height:16.66px;transform:scaleX(0.825);transform-origin:100% 0">547,5</div>
<div class="t n" style="right:312.90px;top:688.14px;font-size:16.66px;line-height:16.66px;transform:scaleX(0.825);transform-origin:100% 0">540,37</div>
<div class="t n" style="right:217.00px;top:688.14px;font-size:16.66px;line-height:16.66px;transform:scaleX(0.825);transform-origin:100% 0">502,78</div>
<div class="t n" style="right:121.10px;top:688.14px;font-size:16.66px;line-height:16.66px;transform:scaleX(0.825);transform-origin:100% 0">437,81</div>
<div class="t n" style="right:29.20px;top:688.14px;font-size:16.66px;line-height:16.66px;transform:scaleX(0.825);transform-origin:100% 0">5,97</div>
<div class="t b k" style="left:19.00px;top:717.64px;font-size:15.9px;line-height:15.9px;transform:scaleX(0.912);transform-origin:0 0">Santa Eulàlia de Riuprimer</div>
<div class="t n" style="right:504.70px;top:717.00px;font-size:16.66px;line-height:16.66px;transform:scaleX(0.825);transform-origin:100% 0">647,27</div>
<div class="t n" style="right:408.80px;top:717.00px;font-size:16.66px;line-height:16.66px;transform:scaleX(0.825);transform-origin:100% 0">565,21</div>
<div class="t n" style="right:312.90px;top:717.00px;font-size:16.66px;line-height:16.66px;transform:scaleX(0.825);transform-origin:100% 0">688,33</div>
<div class="t n" style="right:217.00px;top:717.00px;font-size:16.66px;line-height:16.66px;transform:scaleX(0.825);transform-origin:100% 0">532,40</div>
<div class="t n" style="right:121.10px;top:717.00px;font-size:16.66px;line-height:16.66px;transform:scaleX(0.825);transform-origin:100% 0">427,19</div>
<div class="t n" style="right:29.20px;top:717.00px;font-size:16.66px;line-height:16.66px;transform:scaleX(0.825);transform-origin:100% 0">14,52</div>
<div class="t b k" style="left:19.00px;top:746.50px;font-size:15.9px;line-height:15.9px;transform:scaleX(0.91);transform-origin:0 0">Seva</div>
<div class="t n" style="right:504.70px;top:745.86px;font-size:16.66px;line-height:16.66px;transform:scaleX(0.825);transform-origin:100% 0">671,47</div>
<div class="t n" style="right:408.80px;top:745.86px;font-size:16.66px;line-height:16.66px;transform:scaleX(0.825);transform-origin:100% 0">744,39</div>
<div class="t n" style="right:312.90px;top:745.86px;font-size:16.66px;line-height:16.66px;transform:scaleX(0.825);transform-origin:100% 0">599,55</div>
<div class="t n" style="right:217.00px;top:745.86px;font-size:16.66px;line-height:16.66px;transform:scaleX(0.825);transform-origin:100% 0">606,45</div>
<div class="t n" style="right:121.10px;top:745.86px;font-size:16.66px;line-height:16.66px;transform:scaleX(0.825);transform-origin:100% 0">454,51</div>
<div class="t n" style="right:29.20px;top:745.86px;font-size:16.66px;line-height:16.66px;transform:scaleX(0.825);transform-origin:100% 0">-9,80</div>
<div class="t b k" style="left:19.00px;top:775.36px;font-size:15.9px;line-height:15.9px;transform:scaleX(0.9459);transform-origin:0 0">Taradell</div>
<div class="t n" style="right:504.70px;top:774.72px;font-size:16.66px;line-height:16.66px;transform:scaleX(0.825);transform-origin:100% 0">551,91</div>
<div class="t n" style="right:408.80px;top:774.72px;font-size:16.66px;line-height:16.66px;transform:scaleX(0.825);transform-origin:100% 0">573,43</div>
<div class="t n" style="right:312.90px;top:774.72px;font-size:16.66px;line-height:16.66px;transform:scaleX(0.825);transform-origin:100% 0">528,85</div>
<div class="t n" style="right:217.00px;top:774.72px;font-size:16.66px;line-height:16.66px;transform:scaleX(0.825);transform-origin:100% 0">511,66</div>
<div class="t n" style="right:121.10px;top:774.72px;font-size:16.66px;line-height:16.66px;transform:scaleX(0.825);transform-origin:100% 0">387,22</div>
<div class="t n" style="right:29.20px;top:774.72px;font-size:16.66px;line-height:16.66px;transform:scaleX(0.825);transform-origin:100% 0">-3,75</div>
<div class="t b k" style="left:19.00px;top:804.22px;font-size:15.9px;line-height:15.9px;transform:scaleX(0.8634);transform-origin:0 0">Tona</div>
<div class="t n" style="right:504.70px;top:803.58px;font-size:16.66px;line-height:16.66px;transform:scaleX(0.825);transform-origin:100% 0">644,04</div>
<div class="t n" style="right:408.80px;top:803.58px;font-size:16.66px;line-height:16.66px;transform:scaleX(0.825);transform-origin:100% 0">544,30</div>
<div class="t n" style="right:312.90px;top:803.58px;font-size:16.66px;line-height:16.66px;transform:scaleX(0.825);transform-origin:100% 0">553,82</div>
<div class="t n" style="right:217.00px;top:803.58px;font-size:16.66px;line-height:16.66px;transform:scaleX(0.825);transform-origin:100% 0">530,57</div>
<div class="t n" style="right:121.10px;top:803.58px;font-size:16.66px;line-height:16.66px;transform:scaleX(0.825);transform-origin:100% 0">384,14</div>
<div class="t n" style="right:29.20px;top:803.58px;font-size:16.66px;line-height:16.66px;transform:scaleX(0.825);transform-origin:100% 0">18,32</div>
<div class="t b k" style="left:19.00px;top:833.08px;font-size:15.9px;line-height:15.9px;transform:scaleX(0.9238);transform-origin:0 0">Torelló</div>
<div class="t n" style="right:504.70px;top:832.44px;font-size:16.66px;line-height:16.66px;transform:scaleX(0.825);transform-origin:100% 0">478,14</div>
<div class="t n" style="right:408.80px;top:832.44px;font-size:16.66px;line-height:16.66px;transform:scaleX(0.825);transform-origin:100% 0">456,89</div>
<div class="t n" style="right:312.90px;top:832.44px;font-size:16.66px;line-height:16.66px;transform:scaleX(0.825);transform-origin:100% 0">451,07</div>
<div class="t n" style="right:217.00px;top:832.44px;font-size:16.66px;line-height:16.66px;transform:scaleX(0.825);transform-origin:100% 0">435,77</div>
<div class="t n" style="right:121.10px;top:832.44px;font-size:16.66px;line-height:16.66px;transform:scaleX(0.825);transform-origin:100% 0">350,60</div>
<div class="t n" style="right:29.20px;top:832.44px;font-size:16.66px;line-height:16.66px;transform:scaleX(0.825);transform-origin:100% 0">4,65</div>
<div class="t b k" style="left:19.00px;top:861.94px;font-size:15.9px;line-height:15.9px;transform:scaleX(0.9731);transform-origin:0 0">Vic</div>
<div class="t n" style="right:504.70px;top:861.30px;font-size:16.66px;line-height:16.66px;transform:scaleX(0.825);transform-origin:100% 0">613,25</div>
<div class="t n" style="right:408.80px;top:861.30px;font-size:16.66px;line-height:16.66px;transform:scaleX(0.825);transform-origin:100% 0">544,43</div>
<div class="t n" style="right:312.90px;top:861.30px;font-size:16.66px;line-height:16.66px;transform:scaleX(0.825);transform-origin:100% 0">568,79</div>
<div class="t n" style="right:217.00px;top:861.30px;font-size:16.66px;line-height:16.66px;transform:scaleX(0.825);transform-origin:100% 0">558,95</div>
<div class="t n" style="right:121.10px;top:861.30px;font-size:16.66px;line-height:16.66px;transform:scaleX(0.825);transform-origin:100% 0">441,24</div>
<div class="t n" style="right:29.20px;top:861.30px;font-size:16.66px;line-height:16.66px;transform:scaleX(0.825);transform-origin:100% 0">12,64</div>
<div class="t b k" style="left:19.00px;top:890.80px;font-size:15.9px;line-height:15.9px;transform:scaleX(0.9463);transform-origin:0 0">Viladrau</div>
<div class="t n" style="right:504.70px;top:890.16px;font-size:16.66px;line-height:16.66px;transform:scaleX(0.825);transform-origin:100% 0">529,29</div>
<div class="t n" style="right:408.80px;top:890.16px;font-size:16.66px;line-height:16.66px;transform:scaleX(0.825);transform-origin:100% 0">550,82</div>
<div class="t n" style="right:312.90px;top:890.16px;font-size:16.66px;line-height:16.66px;transform:scaleX(0.825);transform-origin:100% 0">557,65</div>
<div class="t n" style="right:217.00px;top:890.16px;font-size:16.66px;line-height:16.66px;transform:scaleX(0.825);transform-origin:100% 0">454,47</div>
<div class="t n" style="right:121.10px;top:890.16px;font-size:16.66px;line-height:16.66px;transform:scaleX(0.825);transform-origin:100% 0">443,00</div>
<div class="t n" style="right:29.20px;top:890.16px;font-size:16.66px;line-height:16.66px;transform:scaleX(0.825);transform-origin:100% 0">-3,91</div>
<div class="t b k" style="left:19.80px;top:948.14px;font-size:15.9px;line-height:15.9px;transform:scaleX(0.827);transform-origin:0 0">RIPOLLÈS</div>
<div class="a" style="left:7.00px;top:969.20px;width:213.80px;height:173.16px;background:#dfe2e4;"></div>
<div class="a" style="left:322.00px;top:969.20px;width:90.00px;height:173.16px;background:#d8dce6;"></div>
<div class="a" style="left:514.00px;top:969.20px;width:90.00px;height:173.16px;background:#d8dce6;"></div>
<div class="a" style="left:706.00px;top:969.20px;width:88.40px;height:173.16px;background:#dfe2e4;"></div>
<div class="a" style="left:7.00px;top:968.00px;width:787.60px;height:2.00px;background:#b0b3b7;"></div>
<div class="a" style="left:7.00px;top:997.00px;width:787.60px;height:2.00px;background:#b0b3b7;"></div>
<div class="a" style="left:7.00px;top:1026.00px;width:787.60px;height:2.00px;background:#b0b3b7;"></div>
<div class="a" style="left:7.00px;top:1055.00px;width:787.60px;height:2.00px;background:#b0b3b7;"></div>
<div class="a" style="left:7.00px;top:1084.00px;width:787.60px;height:2.00px;background:#b0b3b7;"></div>
<div class="a" style="left:7.00px;top:1112.00px;width:787.60px;height:2.00px;background:#b0b3b7;"></div>
<div class="a" style="left:7.00px;top:1141.00px;width:787.60px;height:2.00px;background:#b0b3b7;"></div>
<div class="t b k" style="left:19.00px;top:977.24px;font-size:15.9px;line-height:15.9px;transform:scaleX(0.8993);transform-origin:0 0">Campdevànol</div>
<div class="t n" style="right:504.70px;top:976.60px;font-size:16.66px;line-height:16.66px;transform:scaleX(0.825);transform-origin:100% 0">457,41</div>
<div class="t n" style="right:408.80px;top:976.60px;font-size:16.66px;line-height:16.66px;transform:scaleX(0.825);transform-origin:100% 0">417,18</div>
<div class="t n" style="right:312.90px;top:976.60px;font-size:16.66px;line-height:16.66px;transform:scaleX(0.825);transform-origin:100% 0">401,49</div>
<div class="t n" style="right:217.00px;top:976.60px;font-size:16.66px;line-height:16.66px;transform:scaleX(0.825);transform-origin:100% 0">374,32</div>
<div class="t n" style="right:121.10px;top:976.60px;font-size:16.66px;line-height:16.66px;transform:scaleX(0.825);transform-origin:100% 0">334,24</div>
<div class="t n" style="right:29.20px;top:976.60px;font-size:16.66px;line-height:16.66px;transform:scaleX(0.825);transform-origin:100% 0">9,64</div>
<div class="t b k" style="left:19.00px;top:1006.10px;font-size:15.9px;line-height:15.9px;transform:scaleX(0.8859);transform-origin:0 0">Camprodon</div>
<div class="t n" style="right:504.70px;top:1005.46px;font-size:16.66px;line-height:16.66px;transform:scaleX(0.825);transform-origin:100% 0">418,86</div>
<div class="t n" style="right:408.80px;top:1005.46px;font-size:16.66px;line-height:16.66px;transform:scaleX(0.825);transform-origin:100% 0">516,59</div>
<div class="t n" style="right:312.90px;top:1005.46px;font-size:16.66px;line-height:16.66px;transform:scaleX(0.825);transform-origin:100% 0">462,50</div>
<div class="t n" style="right:217.00px;top:1005.46px;font-size:16.66px;line-height:16.66px;transform:scaleX(0.825);transform-origin:100% 0">443,75</div>
<div class="t n" style="right:121.10px;top:1005.46px;font-size:16.66px;line-height:16.66px;transform:scaleX(0.825);transform-origin:100% 0">422,08</div>
<div class="t n" style="right:29.20px;top:1005.46px;font-size:16.66px;line-height:16.66px;transform:scaleX(0.825);transform-origin:100% 0">-18,92</div>
<div class="t b k" style="left:19.00px;top:1034.96px;font-size:15.9px;line-height:15.9px;transform:scaleX(0.889);transform-origin:0 0">Ribes de Freser</div>
<div class="t n" style="right:504.70px;top:1034.32px;font-size:16.66px;line-height:16.66px;transform:scaleX(0.825);transform-origin:100% 0">442,72</div>
<div class="t n" style="right:408.80px;top:1034.32px;font-size:16.66px;line-height:16.66px;transform:scaleX(0.825);transform-origin:100% 0">475,74</div>
<div class="t n" style="right:312.90px;top:1034.32px;font-size:16.66px;line-height:16.66px;transform:scaleX(0.825);transform-origin:100% 0">450,63</div>
<div class="t n" style="right:217.00px;top:1034.32px;font-size:16.66px;line-height:16.66px;transform:scaleX(0.825);transform-origin:100% 0">403,44</div>
<div class="t n" style="right:121.10px;top:1034.32px;font-size:16.66px;line-height:16.66px;transform:scaleX(0.825);transform-origin:100% 0">358,89</div>
<div class="t n" style="right:29.20px;top:1034.32px;font-size:16.66px;line-height:16.66px;transform:scaleX(0.825);transform-origin:100% 0">-6,94</div>
<div class="t b k" style="left:19.00px;top:1063.82px;font-size:15.9px;line-height:15.9px;transform:scaleX(0.91);transform-origin:0 0">Ripoll</div>
<div class="t n" style="right:504.70px;top:1063.18px;font-size:16.66px;line-height:16.66px;transform:scaleX(0.825);transform-origin:100% 0">449,71</div>
<div class="t n" style="right:408.80px;top:1063.18px;font-size:16.66px;line-height:16.66px;transform:scaleX(0.825);transform-origin:100% 0">393,89</div>
<div class="t n" style="right:312.90px;top:1063.18px;font-size:16.66px;line-height:16.66px;transform:scaleX(0.825);transform-origin:100% 0">386,97</div>
<div class="t n" style="right:217.00px;top:1063.18px;font-size:16.66px;line-height:16.66px;transform:scaleX(0.825);transform-origin:100% 0">373,63</div>
<div class="t n" style="right:121.10px;top:1063.18px;font-size:16.66px;line-height:16.66px;transform:scaleX(0.825);transform-origin:100% 0">317,36</div>
<div class="t n" style="right:29.20px;top:1063.18px;font-size:16.66px;line-height:16.66px;transform:scaleX(0.825);transform-origin:100% 0">14,17</div>
<div class="t b k" style="left:19.00px;top:1092.68px;font-size:15.9px;line-height:15.9px;transform:scaleX(0.9053);transform-origin:0 0">Sant Joan de les Abadesses</div>
<div class="t n" style="right:504.70px;top:1092.04px;font-size:16.66px;line-height:16.66px;transform:scaleX(0.825);transform-origin:100% 0">390,25</div>
<div class="t n" style="right:408.80px;top:1092.04px;font-size:16.66px;line-height:16.66px;transform:scaleX(0.825);transform-origin:100% 0">397,53</div>
<div class="t n" style="right:312.90px;top:1092.04px;font-size:16.66px;line-height:16.66px;transform:scaleX(0.825);transform-origin:100% 0">385,50</div>
<div class="t n" style="right:217.00px;top:1092.04px;font-size:16.66px;line-height:16.66px;transform:scaleX(0.825);transform-origin:100% 0">350,24</div>
<div class="t n" style="right:121.10px;top:1092.04px;font-size:16.66px;line-height:16.66px;transform:scaleX(0.825);transform-origin:100% 0">283,55</div>
<div class="t n" style="right:29.20px;top:1092.04px;font-size:16.66px;line-height:16.66px;transform:scaleX(0.825);transform-origin:100% 0">-1,83</div>
<div class="t b k" style="left:19.00px;top:1121.54px;font-size:15.9px;line-height:15.9px;transform:scaleX(0.9081);transform-origin:0 0">Sant Pau de Segúries</div>
<div class="t n" style="right:504.70px;top:1120.90px;font-size:16.66px;line-height:16.66px;transform:scaleX(0.825);transform-origin:100% 0">505</div>
<div class="t n" style="right:408.80px;top:1120.90px;font-size:16.66px;line-height:16.66px;transform:scaleX(0.825);transform-origin:100% 0">451,14</div>
<div class="t n" style="right:312.90px;top:1120.90px;font-size:16.66px;line-height:16.66px;transform:scaleX(0.825);transform-origin:100% 0">553,99</div>
<div class="t n" style="right:217.00px;top:1120.90px;font-size:16.66px;line-height:16.66px;transform:scaleX(0.825);transform-origin:100% 0">400,05</div>
<div class="t n" style="right:121.10px;top:1120.90px;font-size:16.66px;line-height:16.66px;transform:scaleX(0.825);transform-origin:100% 0">268,13</div>
<div class="t n" style="right:29.20px;top:1120.90px;font-size:16.66px;line-height:16.66px;transform:scaleX(0.825);transform-origin:100% 0">11,94</div>
<div class="t f" style="right:10.20px;top:1155.42px;font-size:15.1px;line-height:15.1px;letter-spacing:0.4px;transform:scaleX(0.843);transform-origin:100% 0">Només hi apareixen els municipis amb la majoria de dades i on es van registrar més de cinc contractes a l’Incasòl</div>
<div class="t f" style="right:10.20px;top:1173.22px;font-size:15.1px;line-height:15.1px;letter-spacing:0.4px;transform:scaleX(0.8455);transform-origin:100% 0">Font: Servei d’Estudis i Documentació d’Habitatge, a partir de les fiances de lloguer dipositades a l’Incasòl</div>
</body></html>
